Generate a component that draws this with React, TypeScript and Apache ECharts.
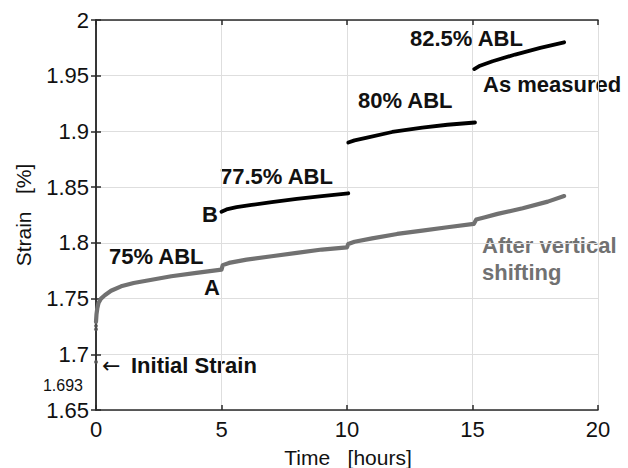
import React, { useEffect, useRef } from "react";
import * as echarts from "echarts";

// Time [hours] and Strain [%]
const grayTime = [0, 0.02, 0.05, 0.1, 0.2, 0.35, 0.6, 1.0, 1.5, 2.0, 3.0, 4.0, 5.0, 5.05, 5.3, 6, 7, 8, 9, 10, 10.05, 10.3, 11, 12, 13, 14, 15.05, 15.15, 15.5, 16, 17, 18, 18.65];
const grayStrain = [1.729, 1.736, 1.741, 1.746, 1.75, 1.753, 1.757, 1.761, 1.764, 1.766, 1.77, 1.773, 1.776, 1.78, 1.782, 1.785, 1.788, 1.791, 1.794, 1.796, 1.799, 1.801, 1.804, 1.808, 1.811, 1.814, 1.817, 1.821, 1.823, 1.826, 1.831, 1.837, 1.842];

const initTime = [0, 0, 0];
const initStrain = [1.693, 1.7225, 1.7255];

const seg2Time = [5.0, 5.2, 5.6, 6.2, 7, 8, 9, 10.05];
const seg2Strain = [1.828, 1.83, 1.832, 1.834, 1.8365, 1.8395, 1.842, 1.8445];
const seg3Time = [10.05, 10.3, 10.8, 11.8, 13, 14, 15.1];
const seg3Strain = [1.89, 1.892, 1.8945, 1.8995, 1.9035, 1.906, 1.908];
const seg4Time = [15.07, 15.3, 15.8, 16.7, 17.7, 18.65];
const seg4Strain = [1.956, 1.959, 1.963, 1.969, 1.975, 1.98];

const xTicks = { min: 0, max: 20, interval: 5 };
const yTicks = { min: 1.65, max: 2, interval: 0.05 };

const zip = (a: number[], b: number[]) => a.map((v, i) => [v, b[i]]);

const FONT = "'Liberation Sans', Arial, Helvetica, sans-serif";
const GRAY = "#717171";

export default function App() {
  const ref = useRef<HTMLDivElement>(null);
  useEffect(() => {
    if (!ref.current) return;
    const chart = echarts.init(ref.current, null, { renderer: "svg" });
    const axisLineStyle = { color: "#2a2a2a", width: 1.5 };
    const fmt = (v: number) => String(parseFloat(v.toFixed(3)));
    const blackLine = (d: number[][]) => ({
      type: "line",
      data: d,
      showSymbol: false,
      symbol: "none",
      lineStyle: { color: "#000", width: 3.8, cap: "round", join: "round" },
      z: 3,
    });
    const bold = (text: string, x: number, y: number, color = "#111", align = "left") => ({
      type: "text",
      x,
      y,
      style: {
        text,
        fill: color,
        font: `bold 22px ${FONT}`,
        align,
        verticalAlign: "middle",
      },
    });
    chart.setOption({
      animation: false,
      backgroundColor: "#fff",
      grid: { left: 96, top: 20, right: 30, bottom: 58, containLabel: false },
      xAxis: [
        {
          type: "value",
          ...xTicks,
          axisLine: { show: true, lineStyle: axisLineStyle },
          axisTick: { show: true, inside: true, length: 5, lineStyle: axisLineStyle },
          axisLabel: { color: "#111", fontSize: 22, fontFamily: FONT, margin: 8, formatter: fmt },
          splitLine: { show: true, lineStyle: { color: "#dedede", width: 1 } },
        },
        {
          type: "value",
          position: "top",
          ...xTicks,
          axisLine: { show: true, lineStyle: axisLineStyle },
          axisTick: { show: true, inside: true, length: 5, lineStyle: axisLineStyle },
          axisLabel: { show: false },
          splitLine: { show: false },
        },
      ],
      yAxis: [
        {
          type: "value",
          ...yTicks,
          axisLine: { show: true, lineStyle: axisLineStyle },
          axisTick: { show: true, inside: true, length: 5, lineStyle: axisLineStyle },
          axisLabel: { color: "#111", fontSize: 22, fontFamily: FONT, margin: 7, formatter: fmt },
          splitLine: { show: true, lineStyle: { color: "#dedede", width: 1 } },
        },
        {
          type: "value",
          position: "right",
          ...yTicks,
          axisLine: { show: true, lineStyle: axisLineStyle },
          axisTick: { show: true, inside: true, length: 5, lineStyle: axisLineStyle },
          axisLabel: { show: false },
          splitLine: { show: false },
        },
      ],
      series: [
        {
          type: "line",
          data: zip(grayTime, grayStrain),
          showSymbol: false,
          symbol: "none",
          lineStyle: { color: GRAY, width: 4.2, cap: "round", join: "round" },
          z: 2,
        },
        {
          type: "scatter",
          data: zip(initTime, initStrain),
          symbolSize: 4,
          itemStyle: { color: "#555" },
          z: 4,
        },
        blackLine(zip(seg2Time, seg2Strain)),
        blackLine(zip(seg3Time, seg3Strain)),
        blackLine(zip(seg4Time, seg4Strain)),
      ],
      graphic: [
        bold("75% ABL", 109, 256),
        bold("A", 204, 287),
        bold("B", 202, 214),
        bold("77.5% ABL", 220, 176),
        bold("80% ABL", 358, 100),
        bold("82.5% ABL", 410, 38),
        bold("As measured", 483, 84),
        bold("After vertical", 482, 245, GRAY),
        bold("shifting", 482, 272, GRAY),
        bold("Initial Strain", 131, 365),
        {
          type: "text",
          x: 102,
          y: 365,
          style: { text: "←", fill: "#111", font: `22px 'DejaVu Sans', ${FONT}`, verticalAlign: "middle" },
        },
        {
          type: "text",
          x: 83,
          y: 385,
          style: { text: "1.693", fill: "#111", font: `16px ${FONT}`, align: "right", verticalAlign: "middle" },
        },
        {
          type: "text",
          x: 348,
          y: 457,
          style: { text: "Time   [hours]", fill: "#111", font: `21px ${FONT}`, align: "center", verticalAlign: "middle" },
        },
        {
          type: "text",
          x: 23,
          y: 215,
          rotation: Math.PI / 2,
          style: { text: "Strain   [%]", fill: "#111", font: `21px ${FONT}`, align: "center", verticalAlign: "middle" },
        },
      ],
    });
    return () => chart.dispose();
  }, []);
  return (
    <div
      ref={ref}
      style={{ position: "fixed", left: 0, top: 0, width: 628, height: 468, background: "#fff" }}
    />
  );
}
